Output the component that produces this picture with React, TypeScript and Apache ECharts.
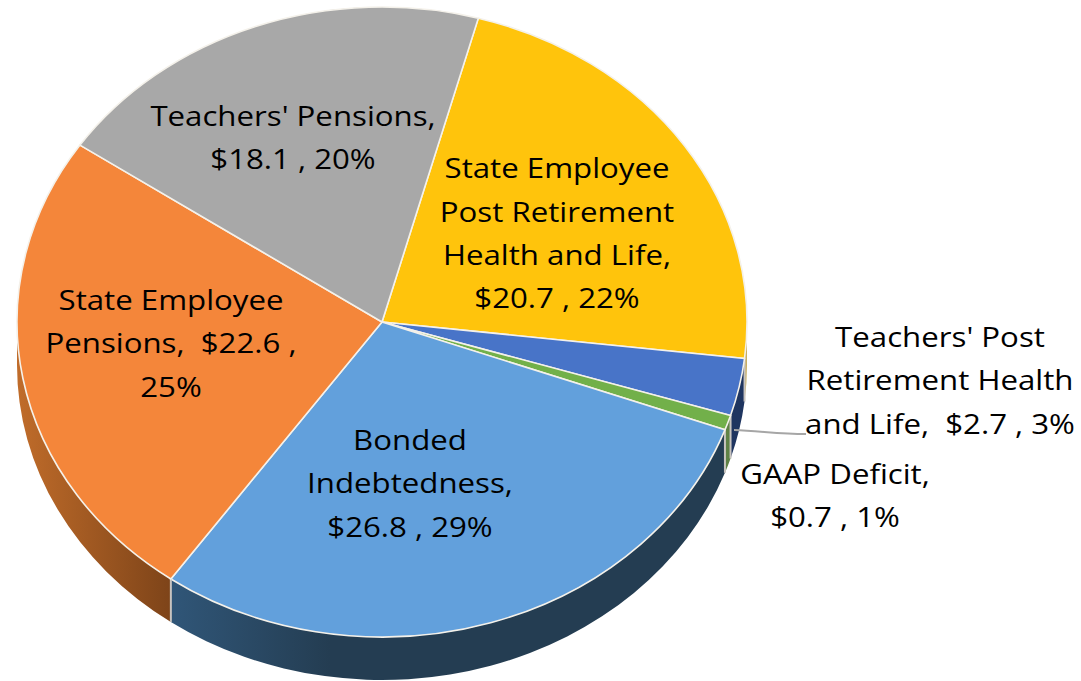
import React, { useEffect, useRef } from "react";
import * as echarts from "echarts";

const categories = [
  "State Employee Post Retirement Health and Life",
  "Teachers' Post Retirement Health and Life",
  "GAAP Deficit",
  "Bonded Indebtedness",
  "State Employee Pensions",
  "Teachers' Pensions",
];
const values = [20.7, 2.7, 0.7, 26.8, 22.6, 18.1];
const labelLines = [
  ["State Employee", "Post Retirement", "Health and Life,", "$20.7 , 22%"],
  ["Teachers' Post", "Retirement Health", "and Life,  $2.7 , 3%"],
  ["GAAP Deficit,", "$0.7 , 1%"],
  ["Bonded", "Indebtedness,", "$26.8 , 29%"],
  ["State Employee", "Pensions,  $22.6 ,", "25%"],
  ["Teachers' Pensions,", "$18.1 , 20%"],
];

const topColors = ["#FFC40C", "#4874C8", "#72B04A", "#62A0DC", "#F4863A", "#A8A8A8"];

const CX = 382, CY = 322, RX = 365, RY = 315, DEPTH = 43, START = 15.3;
const labelAnchors = [
  [557, 233], [940, 380], [835, 495], [410, 483], [171, 343], [293, 137],
];

const total = values.reduce((a, b) => a + b, 0);
const rad = (d: number) => (d * Math.PI) / 180;
const px = (t: number) => CX + RX * Math.sin(rad(t));
const py = (t: number) => CY - RY * Math.cos(rad(t));
const span = (i: number) => {
  let a = START;
  for (let k = 0; k < i; k++) a += (values[k] / total) * 360;
  return [a, a + (values[i] / total) * 360];
};

const wallFill = (i: number): any => {
  const grad = (x0: number, x1: number, c0: string, c1: string) =>
    new echarts.graphic.LinearGradient(x0, 0, x1, 0, [
      { offset: 0, color: c0 },
      { offset: 1, color: c1 },
    ], true);
  if (i === 3) return grad(170, 330, "#305678", "#243d52");
  if (i === 4) return grad(17, 170, "#c06c2a", "#7e4419");
  return ["#C9AE62", "#1F3560", "#5F8246", "", "", ""][i];
};

const renderWall = (params: any) => {
  const i = params.dataIndex;
  const [a0, a1] = span(i);
  const s = Math.max(a0, 90), e = Math.min(a1, 270);
  if (e <= s) return { type: "group", children: [] };
  const large = e - s > 180 ? 1 : 0;
  const d =
    `M${px(s)} ${py(s)}A${RX} ${RY} 0 ${large} 1 ${px(e)} ${py(e)}` +
    `L${px(e)} ${py(e) + DEPTH}A${RX} ${RY} 0 ${large} 0 ${px(s)} ${py(s) + DEPTH}Z`;
  return {
    type: "path",
    shape: { pathData: d },
    style: { fill: wallFill(i), stroke: null },
  };
};

const renderTop = (params: any) => {
  const i = params.dataIndex;
  const [a0, a1] = span(i);
  const large = a1 - a0 > 180 ? 1 : 0;
  const d = `M${CX} ${CY}L${px(a0)} ${py(a0)}A${RX} ${RY} 0 ${large} 1 ${px(a1)} ${py(a1)}Z`;
  const children: any[] = [
    {
      type: "path",
      shape: { pathData: d },
      style: { fill: topColors[i], stroke: "#F4F1EA", lineWidth: 1.6 },
    },
  ];
  if (a1 > 90 && a1 < 270) {
    children.push({
      type: "line",
      shape: { x1: px(a1), y1: py(a1), x2: px(a1), y2: py(a1) + DEPTH },
      style: { stroke: "#C8C4C0", lineWidth: 2 },
    });
  }
  return { type: "group", children };
};

const renderLabel = (params: any) => {
  const i = params.dataIndex;
  const [x, y] = labelAnchors[i];
  const children: any[] = [
    {
      type: "text",
      x,
      y,
      scaleX: 1.135,
      style: {
        text: labelLines[i].join("\n"),
        fill: "#000000",
        font: '27.5px "Open Sans", Lato, sans-serif',
        lineHeight: 43.4,
        align: "center",
        verticalAlign: "middle",
      },
    },
  ];
  if (i === 1) {
    children.push({
      type: "bezierCurve",
      shape: { x1: 734, y1: 430, x2: 806, y2: 434, cpx1: 760, cpy1: 431, cpx2: 780, cpy2: 434 },
      style: { stroke: "#A6A6A6", lineWidth: 2, fill: "none" },
    });
  }
  return { type: "group", children };
};

export default function App() {
  const ref = useRef<HTMLDivElement>(null);
  useEffect(() => {
    const chart = echarts.init(ref.current!, null, { renderer: "svg" });
    const data = categories.map((name, i) => ({ name, value: values[i] }));
    const base = { type: "custom", coordinateSystem: "none", data, silent: true, clip: false };
    chart.setOption({
      animation: false,
      backgroundColor: "#ffffff",
      series: [
        { ...base, renderItem: renderWall, z: 1 },
        { ...base, renderItem: renderTop, z: 2 },
        { ...base, renderItem: renderLabel, z: 3 },
      ],
    });
    return () => chart.dispose();
  }, []);
  return <div ref={ref} style={{ position: "fixed", left: 0, top: 0, width: 1081, height: 681 }} />;
}
